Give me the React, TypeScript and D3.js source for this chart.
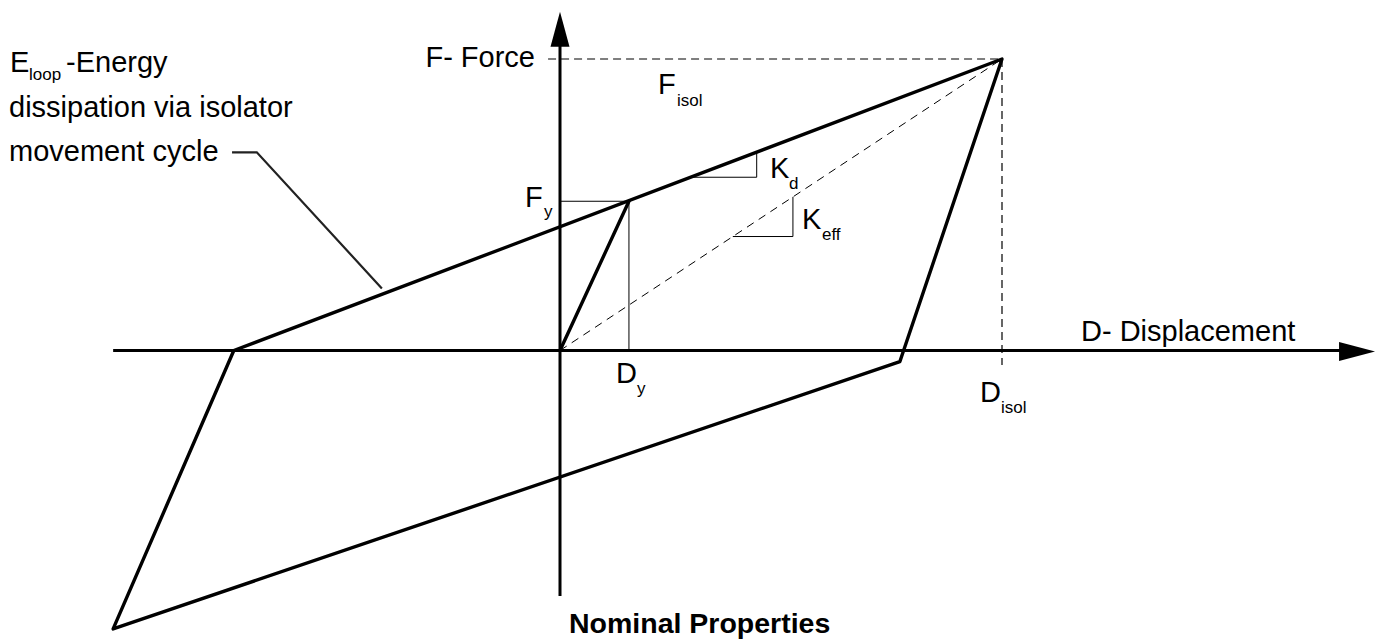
import React from 'react';
import * as d3 from 'd3';

// Normalised values: D_isol = 1, F_isol = 1
const Disol = 1;
const Fisol = 1;
const Dy = 0.156;
const Fy = 0.512;

// hysteresis loop corners [displacement, force]
const loopPoints: [number, number][] = [
    [-0.738, 0],
    [1, 1],
    [0.769, -0.038],
    [-1.011, -0.955],
    [-0.738, 0],
];

// initial elastic branch
const elasticPoints: [number, number][] = [[0, 0], [Dy, Fy]];

// axes extents
const xAxisExtent = [-1.011, 1.844];
const yAxisExtent = [-0.842, 1.162];

// leader line for the E_loop note
const leaderPoints: [number, number][] = [[-0.742, 0.68], [-0.686, 0.68], [-0.403, 0.213]];

// slope triangles: [x start, x end] on the line
const kdTriangle = [0.295, 0.445];
const keffTriangle = [0.391, 0.527];

const W = 1395;
const H = 643;
const FONT = '"Liberation Sans", Arial, sans-serif';

export default function App() {
    const x = d3.scaleLinear().domain([0, Disol]).range([560, 1002]);
    const y = d3.scaleLinear().domain([0, Fisol]).range([350.5, 59]);
    const line = d3.line<[number, number]>().x(d => x(d[0])).y(d => y(d[1]));

    const upper = (d: number) => loopPoints[0][1] + (loopPoints[1][1] - loopPoints[0][1]) * (d - loopPoints[0][0]) / (loopPoints[1][0] - loopPoints[0][0]);
    const secant = (d: number) => d * Fisol / Disol;

    const kdPts: [number, number][] = [[kdTriangle[0], upper(kdTriangle[0])], [kdTriangle[1], upper(kdTriangle[0])], [kdTriangle[1], upper(kdTriangle[1])]];
    const keffPts: [number, number][] = [[keffTriangle[0], secant(keffTriangle[0])], [keffTriangle[1], secant(keffTriangle[0])], [keffTriangle[1], secant(keffTriangle[1])]];

    const xTip = x(xAxisExtent[1]);
    const yTip = y(yAxisExtent[1]);
    const x0 = x(0), y0 = y(0);

    const big = 29;
    const sub = 17;

    return (
        <svg width={W} height={H} style={{ position: 'absolute', left: 0, top: 0, background: '#fff' }} fontFamily={FONT}>
            <rect width={W} height={H} fill="#fff" />

            {/* axes */}
            <line x1={x(xAxisExtent[0])} y1={y0} x2={xTip - 30} y2={y0} stroke="#000" strokeWidth={3} />
            <path d={`M${xTip},${y0 + 1} L${xTip - 36},${y0 - 8.5} L${xTip - 36},${y0 + 10.5} Z`} fill="#000" />
            <line x1={x0} y1={y(yAxisExtent[0])} x2={x0} y2={yTip + 30} stroke="#000" strokeWidth={3} />
            <path d={`M${x0},${yTip} L${x0 - 9.5},${yTip + 35} L${x0 + 9.5},${yTip + 35} Z`} fill="#000" />

            {/* dashed reference lines */}
            <line x1={x(-0.027)} y1={y(Fisol)} x2={x(Disol)} y2={y(Fisol)} stroke="#000" strokeWidth={1.2} strokeDasharray="8,5" />
            <line x1={x(Disol)} y1={y(Fisol)} x2={x(Disol)} y2={y(-0.05)} stroke="#000" strokeWidth={1.2} strokeDasharray="8,5" />
            <line x1={x0} y1={y0} x2={x(Disol)} y2={y(Fisol)} stroke="#000" strokeWidth={1} strokeDasharray="8,6" />

            {/* yield guides */}
            <line x1={x0} y1={y(Fy)} x2={x(Dy)} y2={y(Fy)} stroke="#000" strokeWidth={1} />
            <line x1={x(Dy)} y1={y(Fy)} x2={x(Dy)} y2={y0} stroke="#000" strokeWidth={1} />

            {/* slope triangles */}
            <path d={line(kdPts) || ''} fill="none" stroke="#000" strokeWidth={1} />
            <path d={line(keffPts) || ''} fill="none" stroke="#000" strokeWidth={1} />

            {/* loop */}
            <path d={line(loopPoints) || ''} fill="none" stroke="#000" strokeWidth={3.4} strokeLinejoin="round" />
            <path d={line(elasticPoints) || ''} fill="none" stroke="#000" strokeWidth={3.4} strokeLinecap="round" />

            {/* leader */}
            <path d={line(leaderPoints) || ''} fill="none" stroke="#222" strokeWidth={2.2} />

            {/* labels */}
            <g fill="#000" fontSize={big}>
                <text x={10} y={72}>E</text>
                <text x={29} y={80} fontSize={sub}>loop</text>
                <text x={66} y={72}>-Energy</text>
                <text x={9} y={117}>dissipation via isolator</text>
                <text x={9} y={161}>movement cycle</text>

                <text x={535} y={67} textAnchor="end">F- Force</text>
                <text x={658} y={94}>F</text>
                <text x={677} y={106} fontSize={sub}>isol</text>
                <text x={525} y={207}>F</text>
                <text x={544} y={217} fontSize={sub}>y</text>
                <text x={770} y={178}>K</text>
                <text x={789} y={189} fontSize={sub}>d</text>
                <text x={802} y={229}>K</text>
                <text x={822} y={240} fontSize={sub}>eff</text>
                <text x={616} y={383}>D</text>
                <text x={637} y={394} fontSize={sub}>y</text>
                <text x={980} y={402}>D</text>
                <text x={1001} y={413} fontSize={sub}>isol</text>
                <text x={1081} y={341}>D- Displacement</text>
                <text x={569} y={633} fontWeight="bold" fontSize={28.5}>Nominal Properties</text>
            </g>
        </svg>
    );
}
